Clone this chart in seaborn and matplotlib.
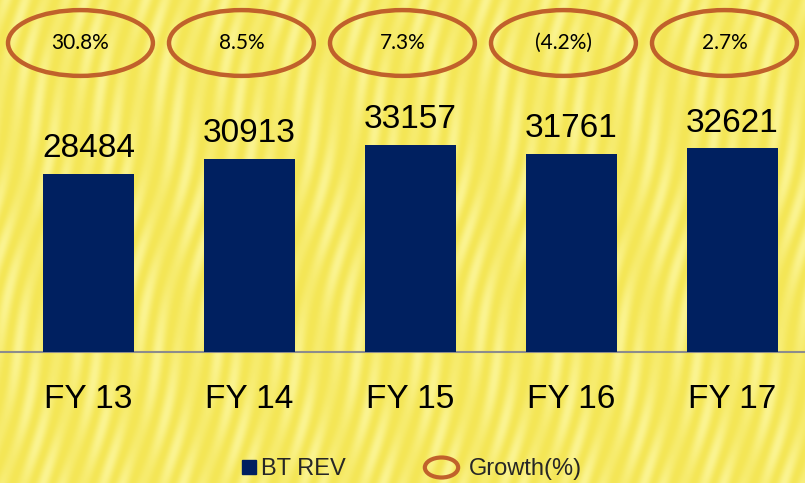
import numpy as np
import pandas as pd
import seaborn as sns
import matplotlib
matplotlib.use("Agg")
import matplotlib.pyplot as plt
from matplotlib.patches import Ellipse
from matplotlib.lines import Line2D
from matplotlib.path import Path
from matplotlib.transforms import Affine2D

# -------------------------------
#  Datos
# -------------------------------
years = ["FY 13", "FY 14", "FY 15", "FY 16", "FY 17"]
bt_rev = [28484, 30913, 33157, 31761, 32621]
growth = ["30.8%", "8.5%", "7.3%", "(4.2%)", "2.7%"]

navy = "#002060"
brown = "#C0612B"

sns.set_theme(style="white")
plt.rcParams["font.family"] = ["Liberation Sans", "DejaVu Sans"]

df = pd.DataFrame({"year": years, "rev": bt_rev})

fig = plt.figure(figsize=(8.05, 4.83), dpi=100)

# fondo amarillo con rayas suaves inclinadas
bg = fig.add_axes([0, 0, 1, 1])
bg.axis("off")
rows, cols = np.mgrid[0:483, 0:805]
phase = cols + 0.25 * rows + 4 * np.sin(rows / 37.0)
wave = 0.5 + 0.5 * np.sin(2 * np.pi * phase / 20)
wave = wave * (0.7 + 0.3 * np.sin(2 * np.pi * (cols - 0.2 * rows) / 67))
base = np.array([244, 230, 86]) / 255
light = np.array([251, 244, 145]) / 255
img = base + (light - base) * wave[..., None]
bg.imshow(img, aspect="auto", extent=[0, 1, 0, 1], interpolation="bilinear")
bg.set_xlim(0, 1)
bg.set_ylim(0, 1)
bg.axhline(1 - 352 / 483, color="#8c8c8c", lw=1.5)

# barras
ax = fig.add_axes([8 / 805, 1 - 352 / 483, 1.0, 257 / 483])
ax.patch.set_alpha(0)
sns.barplot(data=df, x="year", y="rev", color=navy, saturation=1, width=0.57,
            linewidth=0, ax=ax)
ax.set_xlim(-0.5, 4.5)
ax.set_ylim(0, 257 * 160.2)
for s in ax.spines.values():
    s.set_visible(False)
ax.set_yticks([])
ax.set_xlabel("")
ax.set_ylabel("")
ax.tick_params(axis="x", length=0, pad=23, labelsize=24, labelcolor="black")

for i, v in enumerate(bt_rev):
    ax.annotate(f"{v}", (i, v), xytext=(0, 7), textcoords="offset points",
                ha="center", va="bottom", fontsize=24, color="black")

# elipses de crecimiento
top = fig.add_axes([8 / 805, 1 - 78 / 483, 1.0, 70 / 483])
top.axis("off")
top.set_xlim(-0.5, 4.5)
top.set_ylim(0, 1)
for i, g in enumerate(growth):
    top.add_patch(Ellipse((i - 0.05, 0.5), 0.9, 0.94, facecolor="none",
                          edgecolor=brown, lw=3.2, clip_on=False))
    top.text(i - 0.05, 0.5, g, ha="center", va="center", fontsize=15,
             family=["Lato", "DejaVu Sans"], color="black")

# leyenda (dos entradas separadas)
ell = Path.unit_circle().transformed(Affine2D().scale(1.0, 0.6))
h_bar = Line2D([], [], marker="s", ls="none", color=navy, ms=10)
h_ell = Line2D([], [], marker=ell, ls="none", mfc="none", mec=brown, mew=3, ms=24)
fig.legend([h_bar], ["BT REV"], loc="center left",
           bbox_to_anchor=(229 / 805, 1 - 469 / 483), frameon=False,
           fontsize=17, handlelength=0.7, handletextpad=0.15, borderpad=0)
fig.legend([h_ell], ["Growth(%)"], loc="center left",
           bbox_to_anchor=(412 / 805, 1 - 469 / 483), frameon=False,
           fontsize=17, handlelength=1.45, handletextpad=0.45, borderpad=0)

fig.savefig("out.png", dpi=100)
